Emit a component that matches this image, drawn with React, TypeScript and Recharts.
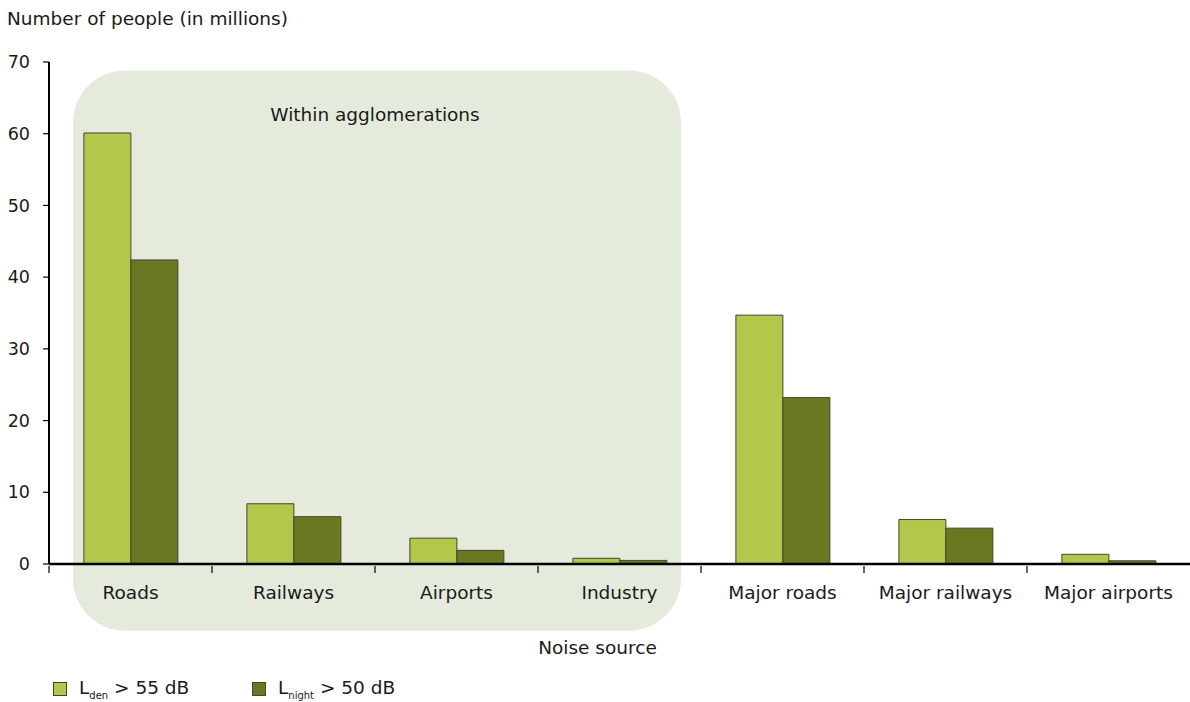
import React from 'react';
import {
  BarChart,
  Bar,
  XAxis,
  YAxis,
  ReferenceArea,
} from 'recharts';

const categories = ['Roads', 'Railways', 'Airports', 'Industry', 'Major roads', 'Major railways', 'Major airports'];
const ldenValues = [60.1, 8.4, 3.6, 0.8, 34.7, 6.2, 1.35];
const lnightValues = [42.4, 6.6, 1.9, 0.5, 23.2, 5.0, 0.45];
const yTicks = [0, 10, 20, 30, 40, 50, 60, 70];

const data = categories.map((name, i) => ({
  name,
  lden: ldenValues[i],
  lnight: lnightValues[i],
}));

const WIDTH = 1190;
const HEIGHT = 702;
const Y_AXIS_W = 49;
const BAND = (WIDTH - Y_AXIS_W) / categories.length;
const FONT = '"DejaVu Sans", Verdana, sans-serif';
const LIGHT = '#b3c74a';
const DARK = '#6b7821';
const BOX = '#e4ebdc';
const TEXT = '#1a1a1a';
const FS = 18.5;

// label at band centre, tick line on the band's left edge
const CategoryTick = (props: any) => {
  const { x, y, payload } = props;
  const axisY = y - 6;
  return (
    <g>
      <line x1={x - BAND / 2} x2={x - BAND / 2} y1={axisY} y2={axisY + 7} stroke="#000" strokeWidth={1.2} />
      <text x={x} y={axisY + 33} textAnchor="middle" fontSize={FS} fill={TEXT} fontFamily={FONT}>
        {payload.value}
      </text>
    </g>
  );
};

const AgglomerationBox = (props: any) => {
  const { x, y, width, height } = props;
  return <rect x={x + 24} y={y} width={width - 44} height={height} rx={52} ry={52} fill={BOX} />;
};

const legendItems = [
  { color: LIGHT, main: 'L', sub: 'den', rest: ' > 55 dB' },
  { color: DARK, main: 'L', sub: 'night', rest: ' > 50 dB' },
];

export default function App() {
  return (
    <div style={{ position: 'absolute', left: 0, top: 0, width: WIDTH, height: HEIGHT, fontFamily: FONT, color: TEXT }}>
      <div style={{ position: 'absolute', left: 7, top: 8, fontSize: FS }}>Number of people (in millions)</div>
      <BarChart
        width={WIDTH}
        height={HEIGHT}
        data={data}
        margin={{ top: 62, right: 0, left: 0, bottom: 43 }}
        barCategoryGap="21.4%"
        barGap={0}
      >
        <ReferenceArea
          x1="Roads"
          x2="Industry"
          y1={-9.3}
          y2={68.8}
          ifOverflow="visible"
          shape={AgglomerationBox}
          zIndex={-100}
          label={{ value: 'Within agglomerations', position: 'insideTop', offset: 37, fontSize: FS, fill: TEXT, fontFamily: FONT }}
        />
        <YAxis
          width={Y_AXIS_W}
          domain={[0, 70]}
          ticks={yTicks}
          interval={0}
          axisLine={{ stroke: '#000', strokeWidth: 2 }}
          tickLine={{ stroke: '#000', strokeWidth: 1.2 }}
          tickSize={6}
          tickMargin={13}
          tick={{ fontSize: 17.5, fill: TEXT, fontFamily: FONT }}
        />
        <XAxis
          dataKey="name"
          height={95}
          interval={0}
          axisLine={{ stroke: '#000', strokeWidth: 2.5 }}
          tickLine={false}
          tick={<CategoryTick />}
          label={{ value: 'Noise source', position: 'insideBottom', offset: 5, dx: -22, fontSize: FS, fill: TEXT, fontFamily: FONT }}
        />
        <Bar dataKey="lden" fill={LIGHT} stroke="#45452f" strokeWidth={1} isAnimationActive={false} />
        <Bar dataKey="lnight" fill={DARK} stroke="#45452f" strokeWidth={1} isAnimationActive={false} />
      </BarChart>
      <div style={{ position: 'absolute', left: 53, top: 677, display: 'flex', fontSize: FS }}>
        {legendItems.map((it, i) => (
          <div key={i} style={{ display: 'flex', alignItems: 'center', width: 199 }}>
            <span style={{ display: 'inline-block', width: 12, height: 12, background: it.color, border: '1px solid #45452f', marginRight: 12 }} />
            <span>
              {it.main}
              <sub style={{ fontSize: 10, color: TEXT }}>{it.sub}</sub>
              {it.rest}
            </span>
          </div>
        ))}
      </div>
    </div>
  );
}
